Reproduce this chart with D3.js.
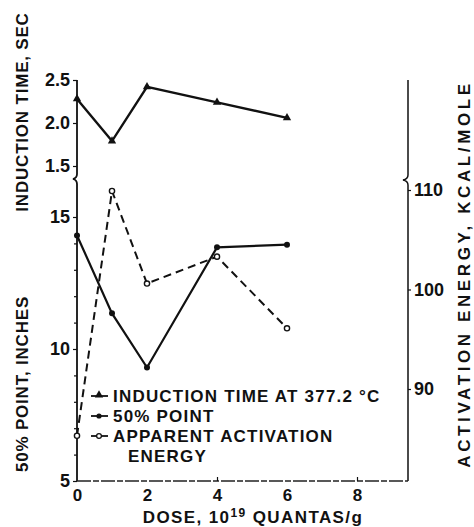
<!DOCTYPE html>
<html>
<head>
<meta charset="utf-8">
<script src="https://cdn.jsdelivr.net/npm/d3@7"></script>
<style>
  body { margin: 0; background: #fff; }
  svg text { font-family: "Liberation Sans", Arial, sans-serif; font-weight: bold; fill: #111; }
</style>
</head>
<body>
<svg id="grafico"></svg>
<script>
const doses = [0, 1, 2, 4, 6];
const inducao = [2.28, 1.79, 2.42, 2.24, 2.06];
const ponto50 = [14.3, 11.35, 9.3, 13.85, 13.95];
const ativacao = [85.3, 109.9, 100.6, 103.3, 96.1];

const ticksX = [0, 2, 4, 6, 8];
const ticksInducao = [1.5, 2.0, 2.5];
const ticksPonto = [5, 10, 15];
const ticksAtivacao = [90, 100, 110];

const legenda = [
  { texto: ['INDUCTION TIME AT 377.2 °C'], tipo: 'tri' },
  { texto: ['50% POINT'], tipo: 'dot' },
  { texto: ['APPARENT ACTIVATION', 'ENERGY'], tipo: 'circ' }
];

const svg = d3.select('#grafico').attr('width', 474).attr('height', 527);

const x = d3.scaleLinear().domain([0, 8]).range([77, 357]);
const yTopo = d3.scaleLinear().domain([1.5, 2.5]).range([166, 80]);
const yBase = d3.scaleLinear().domain([5, 15]).range([481, 217]);
const yDir = d3.scaleLinear().domain([90, 110]).range([389, 190]);

const xEsq = 77, xDir = 408, yChao = 481;

// eixos com quebra
svg.append('path')
  .attr('d', `M${xEsq},80 L${xEsq},174 Q${xEsq},178 ${xEsq - 4},179 Q${xEsq},180 ${xEsq},184 L${xEsq},${yChao}`)
  .attr('fill', 'none').attr('stroke', '#111').attr('stroke-width', 1.8);
svg.append('path')
  .attr('d', `M${xDir},80 L${xDir},175 Q${xDir},179 ${xDir - 5},180 Q${xDir},181 ${xDir},185 L${xDir},${yChao}`)
  .attr('fill', 'none').attr('stroke', '#111').attr('stroke-width', 1.5);
svg.append('line')
  .attr('x1', xEsq).attr('x2', xDir).attr('y1', yChao).attr('y2', yChao)
  .attr('stroke', '#222').attr('stroke-width', 1.3).attr('stroke-dasharray', '14,2,6,2');

// ticks
svg.append('g').attr('transform', `translate(${xEsq},0)`)
  .call(d3.axisLeft(yTopo).tickValues(ticksInducao).tickFormat(d3.format('.1f')).tickSize(4).tickPadding(3));
svg.append('g').attr('transform', `translate(${xEsq},0)`)
  .call(d3.axisLeft(yBase).tickValues(ticksPonto).tickSize(4).tickPadding(3));
svg.append('g').attr('transform', `translate(${xEsq},0)`)
  .call(d3.axisLeft(yBase).tickValues(d3.range(6, 15).filter(d => d !== 10)).tickSize(3).tickFormat(''));
svg.append('g').attr('transform', `translate(${xDir},0)`)
  .call(d3.axisRight(yDir).tickValues(ticksAtivacao).tickSize(3).tickPadding(3));
const eixoX = svg.append('g').attr('transform', `translate(0,${yChao})`)
  .call(d3.axisBottom(x).tickValues(ticksX).tickSize(0).tickPadding(8));
svg.append('g').attr('transform', `translate(0,${yChao})`)
  .call(d3.axisTop(x).tickValues([4, 8]).tickSize(4).tickFormat(''));

svg.selectAll('.domain').remove();
svg.selectAll('.tick line').attr('stroke', '#111').attr('stroke-width', 1.2);
svg.selectAll('.tick text').style('font-size', '18px').style('font-family', '"Liberation Sans", Arial, sans-serif')
  .style('font-weight', 'bold').attr('fill', '#111');
eixoX.selectAll('.tick text').style('font-size', '17px');

// linhas
const linhaTopo = d3.line().x((d, i) => x(doses[i])).y(d => yTopo(d));
const linhaBase = d3.line().x((d, i) => x(doses[i])).y(d => yBase(d));
const linhaDir = d3.line().x((d, i) => x(doses[i])).y(d => yDir(d));

svg.append('path').datum(inducao).attr('d', linhaTopo)
  .attr('fill', 'none').attr('stroke', '#111').attr('stroke-width', 2.4);
svg.append('path').datum(ponto50).attr('d', linhaBase)
  .attr('fill', 'none').attr('stroke', '#111').attr('stroke-width', 2.2);
svg.append('path').datum(ativacao).attr('d', linhaDir)
  .attr('fill', 'none').attr('stroke', '#111').attr('stroke-width', 2)
  .attr('stroke-dasharray', '8,5');

const tri = d3.symbol().type(d3.symbolTriangle).size(30);

svg.selectAll('.tri').data(inducao).enter().append('path').classed('tri', true)
  .attr('d', tri).attr('transform', (d, i) => `translate(${x(doses[i])},${yTopo(d)})`).attr('fill', '#111');
svg.selectAll('.dot').data(ponto50).enter().append('circle').classed('dot', true)
  .attr('cx', (d, i) => x(doses[i])).attr('cy', d => yBase(d)).attr('r', 3).attr('fill', '#111');
svg.selectAll('.circ').data(ativacao).enter().append('circle').classed('circ', true)
  .attr('cx', (d, i) => x(doses[i])).attr('cy', d => yDir(d)).attr('r', 2.6)
  .attr('fill', '#fff').attr('stroke', '#111').attr('stroke-width', 1.4);

// legenda
const leg = svg.append('g');
legenda.forEach((item, i) => {
  const yy = 396 + i * 20;
  leg.append('line').attr('x1', 91).attr('x2', 108).attr('y1', yy).attr('y2', yy)
    .attr('stroke', '#111').attr('stroke-width', 1.8);
  if (item.tipo === 'tri') {
    leg.append('path').attr('d', tri).attr('transform', `translate(99,${yy - 1})`).attr('fill', '#111');
  } else if (item.tipo === 'dot') {
    leg.append('circle').attr('cx', 99).attr('cy', yy).attr('r', 2.6).attr('fill', '#111');
  } else {
    leg.append('circle').attr('cx', 99).attr('cy', yy).attr('r', 2.4)
      .attr('fill', '#fff').attr('stroke', '#111').attr('stroke-width', 1.3);
  }
  item.texto.forEach((t, j) => {
    leg.append('text').attr('x', j === 0 ? 113 : 128).attr('y', yy + 6 + j * 20)
      .style('font-size', '17px').style('letter-spacing', '1.2px').text(t);
  });
});

// titulos
svg.append('text').attr('transform', 'translate(28,112) rotate(-90)').attr('text-anchor', 'middle')
  .style('font-size', '17px').style('letter-spacing', '0.8px').text('INDUCTION TIME, SEC');
svg.append('text').attr('transform', 'translate(28,384) rotate(-90)').attr('text-anchor', 'middle')
  .style('font-size', '17px').style('letter-spacing', '0.8px').text('50% POINT, INCHES');
svg.append('text').attr('transform', 'translate(470,274) rotate(-90)').attr('text-anchor', 'middle')
  .style('font-size', '17px').style('letter-spacing', '3.6px').text('ACTIVATION ENERGY, KCAL/MOLE');

const titX = svg.append('text').attr('x', 253).attr('y', 523).attr('text-anchor', 'middle')
  .style('font-size', '17px').style('letter-spacing', '1.4px');
titX.append('tspan').text('DOSE, 10');
titX.append('tspan').attr('dy', -6).style('font-size', '12px').text('19');
titX.append('tspan').attr('dy', 6).text(' QUANTAS/g');
</script>
</body>
</html>
